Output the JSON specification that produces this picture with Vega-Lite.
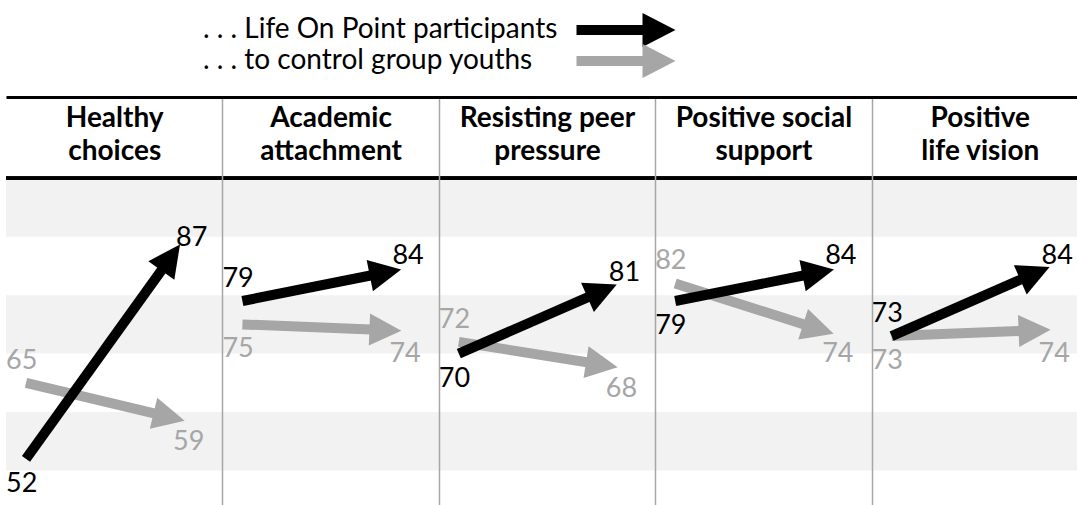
{
  "$schema": "https://vega.github.io/schema/vega-lite/v6.json",
  "width": 1071,
  "height": 408,
  "autosize": {"type": "none"},
  "padding": {"left": 6, "top": 97, "right": 0, "bottom": 0},
  "background": "white",
  "config": {"view": {"stroke": null}, "font": "Lato"},
  "datasets": {
    "arrows": [
      {"measure": "Healthy choices", "group": "Life On Point participants", "Before": 52, "After": 87},
      {"measure": "Healthy choices", "group": "control group youths", "Before": 65, "After": 59},
      {"measure": "Academic attachment", "group": "Life On Point participants", "Before": 79, "After": 84},
      {"measure": "Academic attachment", "group": "control group youths", "Before": 75, "After": 74},
      {"measure": "Resisting peer pressure", "group": "Life On Point participants", "Before": 70, "After": 81},
      {"measure": "Resisting peer pressure", "group": "control group youths", "Before": 72, "After": 68},
      {"measure": "Positive social support", "group": "Life On Point participants", "Before": 79, "After": 84},
      {"measure": "Positive social support", "group": "control group youths", "Before": 82, "After": 74},
      {"measure": "Positive life vision", "group": "Life On Point participants", "Before": 73, "After": 84},
      {"measure": "Positive life vision", "group": "control group youths", "Before": 73, "After": 74}
    ],
    "bands": [{"from": 90, "to": 100}, {"from": 70, "to": 80}, {"from": 50, "to": 60}]
  },
  "layer": [
    {
      "data": {"name": "bands"},
      "mark": {"type": "rect", "color": "#f2f2f2"},
      "encoding": {
        "y": {"field": "from", "type": "quantitative", "scale": {"domain": [44.1, 113.9], "nice": false, "zero": false}, "axis": null},
        "y2": {"field": "to"}
      }
    },
    {
      "data": {"name": "arrows"},
      "mark": {"type": "rule", "color": "black", "strokeWidth": 3},
      "encoding": {
        "y": {"datum": 100, "type": "quantitative", "scale": {"domain": [44.1, 113.9], "nice": false, "zero": false}, "axis": null}
      }
    },
    {
      "data": {"name": "arrows"},
      "transform": [
        {"filter": "datum.group == 'control group youths'"},
        {"fold": ["Before", "After"], "as": ["phase", "value"]},
        {"filter": "datum.phase == 'After'"},
        {"calculate": "-atan2((datum.After - datum.Before) * 5.8453, 147) * 180 / PI", "as": "ang"}
      ],
      "mark": {"type": "point", "shape": "M0.75,0L-1.25,-1L-1.25,1Z", "size": 1024, "filled": true, "opacity": 1, "strokeWidth": 0},
      "encoding": {
        "x": {
          "field": "measure", "type": "nominal",
          "sort": ["Healthy choices", "Academic attachment", "Resisting peer pressure", "Positive social support", "Positive life vision"],
          "scale": {"paddingInner": 0, "paddingOuter": 0, "range": [0, 1082]},
          "axis": {
            "orient": "top", "title": null, "ticks": false, "domain": true, "domainColor": "black", "domainWidth": 3,
            "grid": true, "tickBand": "extent",
            "gridColor": {"condition": {"test": "datum.extra", "value": "transparent"}, "value": "#a6a6a6"},
            "gridWidth": 1.5,
            "labelFont": "Lato", "labelFontWeight": "bold", "labelFontSize": 28, "labelColor": "black",
            "labelPadding": -29, "labelBaseline": "alphabetic", "labelLineHeight": 33, "labelAngle": 0, "labelLimit": 400,
            "labelExpr": "datum.label == 'Healthy choices' ? ['Healthy', 'choices'] : datum.label == 'Academic attachment' ? ['Academic', 'attachment'] : datum.label == 'Resisting peer pressure' ? ['Resisting peer', 'pressure'] : datum.label == 'Positive social support' ? ['Positive social', 'support'] : datum.label == 'Positive life vision' ? ['Positive', 'life vision'] : ''",
            "zindex": 1
          }
        },
        "xOffset": {"field": "phase", "type": "nominal", "sort": ["Before", "After"], "scale": {"type": "point", "range": [20, 167], "padding": 0}},
        "y": {"field": "value", "type": "quantitative", "scale": {"domain": [44.1, 113.9], "nice": false, "zero": false}, "axis": null},
        "color": {
          "field": "group", "type": "nominal",
          "scale": {"domain": ["Life On Point participants", "control group youths"], "range": ["#000000", "#a6a6a6"]},
          "legend": {
            "orient": "none", "legendX": 606, "legendY": -81, "title": null, "padding": 0,
            "symbolType": "M-9.9,-1L3.3,-1L3.3,-3.4L9.9,0L3.3,3.4L3.3,1L-9.9,1Z",
            "symbolSize": 100, "symbolStrokeWidth": 0, "symbolOpacity": 1,
            "labelExpr": "datum.label == 'Life On Point participants' ? '. . . Life On Point participants' : '. . . to control group youths'",
            "labelAlign": "left", "labelOffset": -437, "labelFont": "Lato", "labelFontSize": 28, "labelColor": "black", "labelLimit": 600,
            "rowPadding": -5
          }
        },
        "angle": {"field": "ang", "type": "quantitative", "scale": null}
      }
    },
    {
      "data": {"name": "arrows"},
      "transform": [
        {"filter": "datum.group == 'control group youths'"},
        {"fold": ["Before", "After"], "as": ["phase", "value"]}
      ],
      "mark": {"type": "line", "strokeWidth": 10, "strokeCap": "butt"},
      "encoding": {
        "x": {"field": "measure", "type": "nominal", "sort": ["Healthy choices", "Academic attachment", "Resisting peer pressure", "Positive social support", "Positive life vision"]},
        "xOffset": {"field": "phase", "type": "nominal", "sort": ["Before", "After"]},
        "y": {"field": "value", "type": "quantitative", "scale": {"domain": [44.1, 113.9], "nice": false, "zero": false}, "axis": null},
        "color": {"field": "group", "type": "nominal"},
        "detail": {"field": "measure"}
      }
    },
    {
      "data": {"name": "arrows"},
      "transform": [
        {"filter": "datum.group == 'Life On Point participants'"},
        {"fold": ["Before", "After"], "as": ["phase", "value"]}
      ],
      "mark": {"type": "line", "strokeWidth": 10, "strokeCap": "butt"},
      "encoding": {
        "x": {"field": "measure", "type": "nominal", "sort": ["Healthy choices", "Academic attachment", "Resisting peer pressure", "Positive social support", "Positive life vision"]},
        "xOffset": {"field": "phase", "type": "nominal", "sort": ["Before", "After"]},
        "y": {"field": "value", "type": "quantitative", "scale": {"domain": [44.1, 113.9], "nice": false, "zero": false}, "axis": null},
        "color": {"field": "group", "type": "nominal"},
        "detail": {"field": "measure"}
      }
    },
    {
      "data": {"name": "arrows"},
      "transform": [
        {"filter": "datum.group == 'Life On Point participants'"},
        {"fold": ["Before", "After"], "as": ["phase", "value"]},
        {"filter": "datum.phase == 'After'"},
        {"calculate": "-atan2((datum.After - datum.Before) * 5.8453, 147) * 180 / PI", "as": "ang"}
      ],
      "mark": {"type": "point", "shape": "M0.75,0L-1.25,-1L-1.25,1Z", "size": 1024, "filled": true, "opacity": 1, "strokeWidth": 0},
      "encoding": {
        "x": {"field": "measure", "type": "nominal", "sort": ["Healthy choices", "Academic attachment", "Resisting peer pressure", "Positive social support", "Positive life vision"]},
        "xOffset": {"field": "phase", "type": "nominal", "sort": ["Before", "After"]},
        "y": {"field": "value", "type": "quantitative", "scale": {"domain": [44.1, 113.9], "nice": false, "zero": false}, "axis": null},
        "color": {"field": "group", "type": "nominal"},
        "angle": {"field": "ang", "type": "quantitative", "scale": null}
      }
    },
    {
      "data": {"name": "arrows"},
      "transform": [
        {"fold": ["Before", "After"], "as": ["phase", "value"]},
        {"window": [{"op": "row_number", "as": "rank"}], "groupby": ["measure", "phase"], "sort": [{"field": "value", "order": "descending"}, {"field": "group", "order": "ascending"}]},
        {"filter": "datum.phase == 'Before' && datum.rank == 1"}
      ],
      "mark": {"type": "text", "font": "Lato", "fontSize": 27, "align": "left", "baseline": "middle", "dx": -20, "dy": -22},
      "encoding": {
        "x": {"field": "measure", "type": "nominal", "sort": ["Healthy choices", "Academic attachment", "Resisting peer pressure", "Positive social support", "Positive life vision"]},
        "xOffset": {"field": "phase", "type": "nominal", "sort": ["Before", "After"]},
        "y": {"field": "value", "type": "quantitative", "scale": {"domain": [44.1, 113.9], "nice": false, "zero": false}, "axis": null},
        "color": {"field": "group", "type": "nominal"},
        "text": {"field": "value", "type": "quantitative"}
      }
    },
    {
      "data": {"name": "arrows"},
      "transform": [
        {"fold": ["Before", "After"], "as": ["phase", "value"]},
        {"window": [{"op": "row_number", "as": "rank"}], "groupby": ["measure", "phase"], "sort": [{"field": "value", "order": "descending"}, {"field": "group", "order": "ascending"}]},
        {"filter": "datum.phase == 'Before' && datum.rank == 2"}
      ],
      "mark": {"type": "text", "font": "Lato", "fontSize": 27, "align": "left", "baseline": "middle", "dx": -20, "dy": 25},
      "encoding": {
        "x": {"field": "measure", "type": "nominal", "sort": ["Healthy choices", "Academic attachment", "Resisting peer pressure", "Positive social support", "Positive life vision"]},
        "xOffset": {"field": "phase", "type": "nominal", "sort": ["Before", "After"]},
        "y": {"field": "value", "type": "quantitative", "scale": {"domain": [44.1, 113.9], "nice": false, "zero": false}, "axis": null},
        "color": {"field": "group", "type": "nominal"},
        "text": {"field": "value", "type": "quantitative"}
      }
    },
    {
      "data": {"name": "arrows"},
      "transform": [
        {"fold": ["Before", "After"], "as": ["phase", "value"]},
        {"window": [{"op": "row_number", "as": "rank"}], "groupby": ["measure", "phase"], "sort": [{"field": "value", "order": "descending"}, {"field": "group", "order": "ascending"}]},
        {"filter": "datum.phase == 'After' && datum.rank == 1"}
      ],
      "mark": {"type": "text", "font": "Lato", "fontSize": 27, "align": "left", "baseline": "middle", "dx": 3, "dy": -16},
      "encoding": {
        "x": {"field": "measure", "type": "nominal", "sort": ["Healthy choices", "Academic attachment", "Resisting peer pressure", "Positive social support", "Positive life vision"]},
        "xOffset": {"field": "phase", "type": "nominal", "sort": ["Before", "After"]},
        "y": {"field": "value", "type": "quantitative", "scale": {"domain": [44.1, 113.9], "nice": false, "zero": false}, "axis": null},
        "color": {"field": "group", "type": "nominal"},
        "text": {"field": "value", "type": "quantitative"}
      }
    },
    {
      "data": {"name": "arrows"},
      "transform": [
        {"fold": ["Before", "After"], "as": ["phase", "value"]},
        {"window": [{"op": "row_number", "as": "rank"}], "groupby": ["measure", "phase"], "sort": [{"field": "value", "order": "descending"}, {"field": "group", "order": "ascending"}]},
        {"filter": "datum.phase == 'After' && datum.rank == 2"}
      ],
      "mark": {"type": "text", "font": "Lato", "fontSize": 27, "align": "left", "baseline": "middle", "dx": 0, "dy": 24},
      "encoding": {
        "x": {"field": "measure", "type": "nominal", "sort": ["Healthy choices", "Academic attachment", "Resisting peer pressure", "Positive social support", "Positive life vision"]},
        "xOffset": {"field": "phase", "type": "nominal", "sort": ["Before", "After"]},
        "y": {"field": "value", "type": "quantitative", "scale": {"domain": [44.1, 113.9], "nice": false, "zero": false}, "axis": null},
        "color": {"field": "group", "type": "nominal"},
        "text": {"field": "value", "type": "quantitative"}
      }
    }
  ]
}
